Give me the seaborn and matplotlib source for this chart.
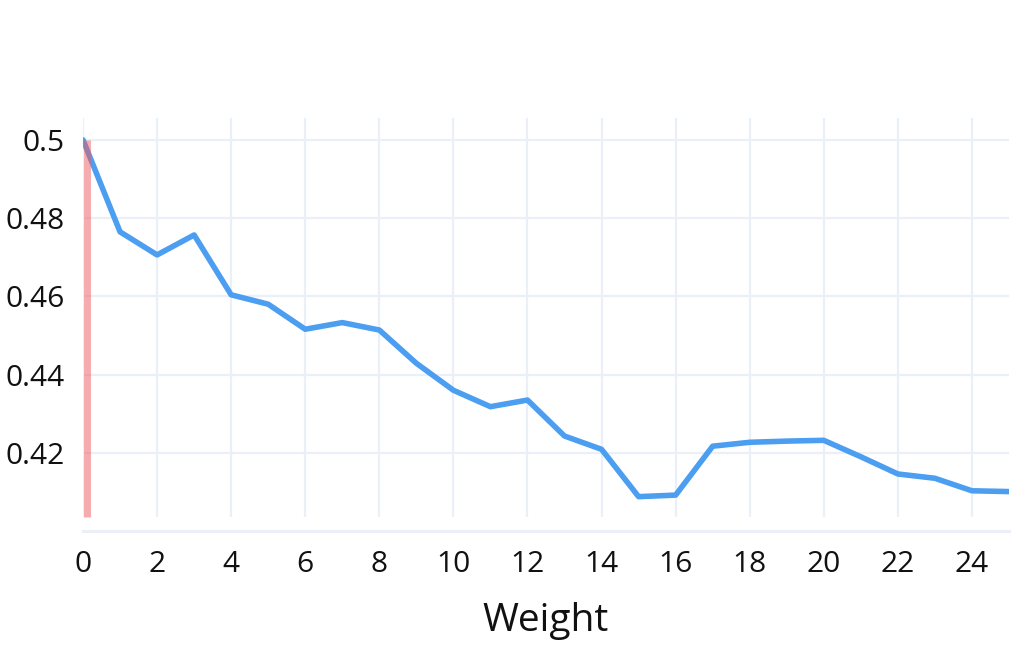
import numpy as np
import pandas as pd
import matplotlib
matplotlib.use("Agg")
import matplotlib.pyplot as plt
import matplotlib.transforms as mtransforms
import seaborn as sns

# values
weights = list(range(26))
scores = [0.5, 0.4765, 0.4706, 0.4757, 0.4604, 0.458, 0.4516, 0.4533, 0.4514,
          0.4429, 0.436, 0.4318, 0.4335, 0.4243, 0.4209, 0.4088, 0.4092, 0.4217,
          0.4227, 0.423, 0.4232, 0.419, 0.4146, 0.4135, 0.4103, 0.4101]
marker_x = 0
y_low, y_high = 0.4036, 0.5056

df = pd.DataFrame({"Weight": weights, "score": scores})

sns.set_style("white")
plt.rcParams['font.family'] = ['Open Sans', 'DejaVu Sans']

grid_col = "#EBF0F8"
fig = plt.figure(figsize=(10.3, 6.46), dpi=100)
ax = fig.add_axes([83 / 1030, 1 - 517 / 646, (1009 - 83) / 1030, (517 - 118) / 646])

sns.lineplot(data=df, x="Weight", y="score", ax=ax, color="#4C9EF0", linewidth=4, zorder=3)
# red marker sits just right of the zero gridline
shift = mtransforms.ScaledTranslation(3.5 / 100, 0, fig.dpi_scale_trans)
ax.vlines(marker_x, y_low, max(scores), color="#EE5A5F", alpha=0.5, linewidth=5,
          zorder=4, transform=ax.transData + shift, clip_on=False)

ax.set_xlim(0, 25)
ax.set_ylim(y_low, y_high)
ax.set_xticks(range(0, 25, 2))
ax.set_yticks([0.42, 0.44, 0.46, 0.48, 0.5])
ax.set_yticklabels(["0.42", "0.44", "0.46", "0.48", "0.5"])
ax.grid(True, color=grid_col, linewidth=1.6, zorder=0)
ax.set_axisbelow(True)

for s in ["top", "right", "left"]:
    ax.spines[s].set_visible(False)
ax.spines["bottom"].set_position(("outward", 10))
ax.spines["bottom"].set_color(grid_col)
ax.spines["bottom"].set_linewidth(2.2)

ax.tick_params(axis="x", length=0, pad=14, labelsize=21.5, labelcolor="#111111")
ax.tick_params(axis="y", length=0, pad=13, labelsize=21.5, labelcolor="#111111")
ax.set_xlabel("Weight", fontsize=28, color="#111111", labelpad=16)
ax.set_ylabel("")

fig.savefig("out.png", dpi=100)
